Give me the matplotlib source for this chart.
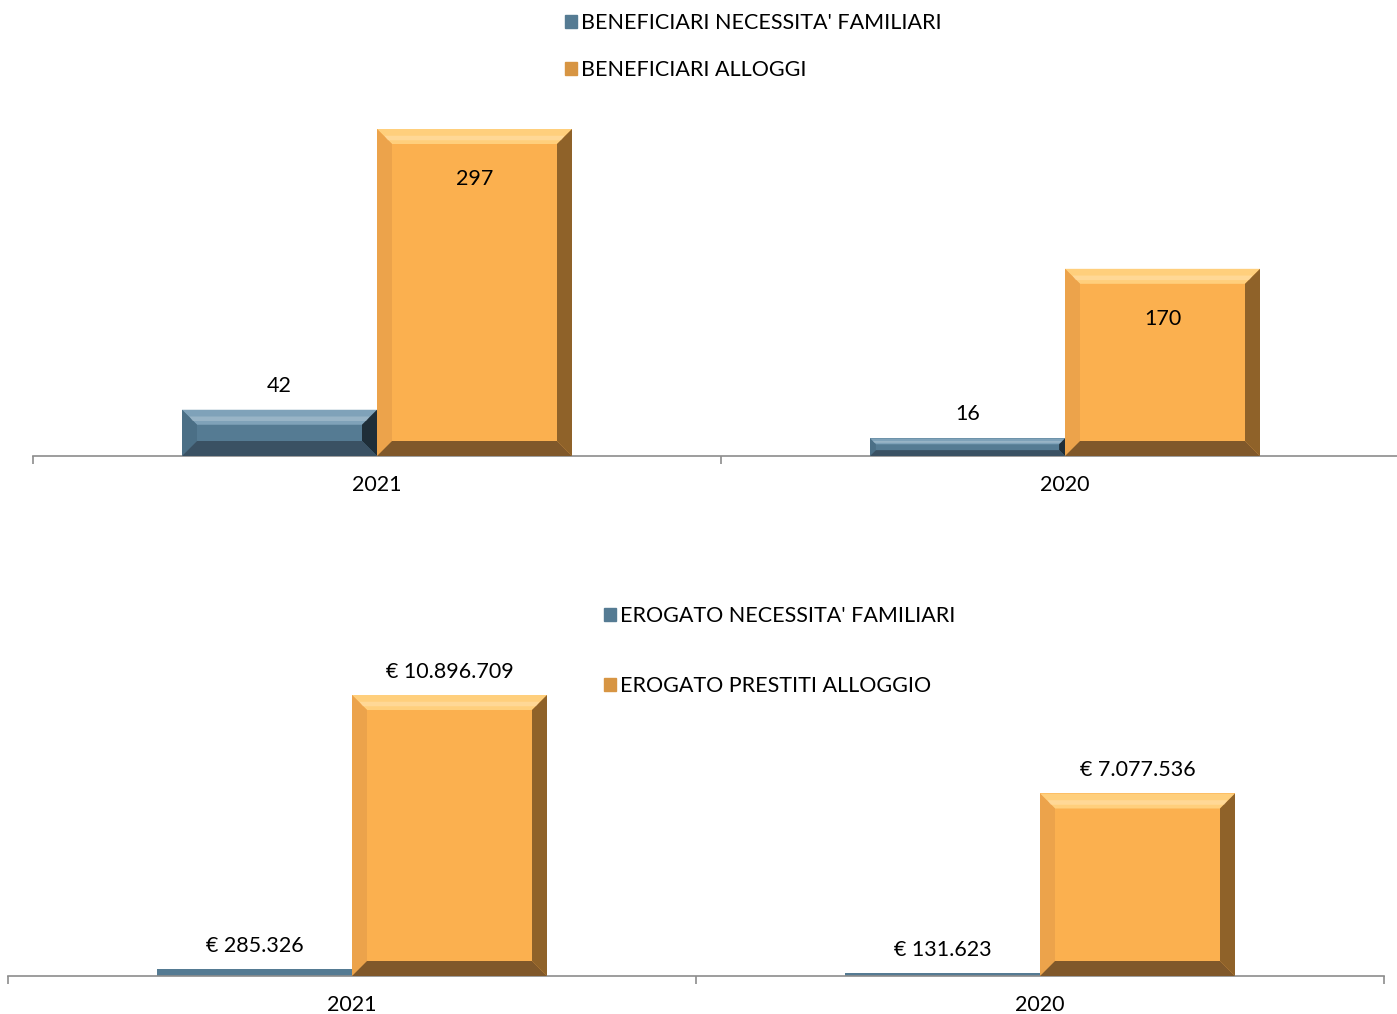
import matplotlib.pyplot as plt
from matplotlib.patches import Polygon, Patch
from matplotlib.transforms import IdentityTransform

plt.rcParams['font.family'] = ['Lato', 'DejaVu Sans']

W, H = 1397, 1014

years = ['2021', '2020']
benef_fam = [42, 16]
benef_all = [297, 170]
erog_fam = [285326, 131623]
erog_all = [10896709, 7077536]

lab_benef = ["BENEFICIARI NECESSITA' FAMILIARI", "BENEFICIARI ALLOGGI"]
lab_erog = ["EROGATO NECESSITA' FAMILIARI", "EROGATO PRESTITI ALLOGGIO"]

FS = 15.5
BLUE = '#557b93'
ORANGE = '#fbb04f'
BLUE_BEV = ['#7fa2b9', '#4b6f86', '#1f2e38', '#3a5163']
ORANGE_BEV = ['#ffcf7c', '#eca34b', '#8f6229', '#80582a']


def euro(v):
    return '€ ' + '{:,}'.format(v).replace(',', '.')


def px_axes(fig, left, right, top, bottom):
    return fig.add_axes([left / W, 1 - bottom / H, (right - left) / W, (bottom - top) / H])


def bevel(fig, ax, bar, cols, size=15):
    (x0, y0), (x1, y1) = ax.transData.transform(
        [(bar.get_x(), bar.get_y()), (bar.get_x() + bar.get_width(), bar.get_y() + bar.get_height())])
    h = y1 - y0
    if h < 10:
        return
    b = min(size, h / 3)
    polys = [
        [(x0, y1), (x1, y1), (x1 - b, y1 - b), (x0 + b, y1 - b)],  # top
        [(x0, y0), (x0, y1), (x0 + b, y1 - b), (x0 + b, y0 + b)],  # left
        [(x1, y0), (x1, y1), (x1 - b, y1 - b), (x1 - b, y0 + b)],  # right
        [(x0, y0), (x1, y0), (x1 - b, y0 + b), (x0 + b, y0 + b)],  # bottom
    ]
    for p, c in zip(polys, cols):
        fig.patches.append(Polygon(p, closed=True, facecolor=c, edgecolor='none',
                                   transform=IdentityTransform(), zorder=3))
    # soft highlight line inside the top bevel
    hl = [(x0 + b * 0.5, y1 - b * 0.45), (x1 - b * 0.5, y1 - b * 0.45),
          (x1 - b * 0.7, y1 - b * 0.75), (x0 + b * 0.7, y1 - b * 0.75)]
    fig.patches.append(Polygon(hl, closed=True, facecolor='white', alpha=0.2, edgecolor='none',
                               transform=IdentityTransform(), zorder=3))


def style_axis(ax, ymax):
    ax.set_xlim(-0.5, 1.5)
    ax.set_ylim(0, ymax)
    for s in ['top', 'right', 'left']:
        ax.spines[s].set_visible(False)
    ax.spines['bottom'].set_color('#8c8c8c')
    ax.spines['bottom'].set_linewidth(1.2)
    ax.set_yticks([])
    ax.set_xticks([-0.5, 0.5, 1.5])
    ax.set_xticklabels([])
    ax.tick_params(axis='x', which='major', length=6, width=1.2, color='#8c8c8c', direction='out')
    ax.set_xticks([0, 1], minor=True)
    ax.set_xticklabels(years, minor=True, fontsize=FS)
    ax.tick_params(axis='x', which='minor', length=0, pad=14)
    ax.patch.set_visible(False)


fig = plt.figure(figsize=(W / 100, H / 100), dpi=100)
bw = 195 / 688
x = [0, 1]

# top chart
ax1 = px_axes(fig, 33, 1409, 95, 456)
b1 = ax1.bar([i - bw / 2 for i in x], benef_fam, bw, color=BLUE, zorder=2)
b2 = ax1.bar([i + bw / 2 for i in x], benef_all, bw, color=ORANGE, zorder=2)
style_axis(ax1, (456 - 95) / (327 / 297))
for r, v in zip(b1, benef_fam):
    ax1.annotate(str(v), (r.get_x() + r.get_width() / 2, v), xytext=(0, 24),
                 textcoords='offset pixels', ha='center', va='center', fontsize=FS)
for r, v in zip(b2, benef_all):
    ax1.annotate(str(v), (r.get_x() + r.get_width() / 2, v), xytext=(0, -50),
                 textcoords='offset pixels', ha='center', va='center', fontsize=FS, zorder=5)
fig.legend(handles=[Patch(color=BLUE), Patch(color='#d79543')], labels=lab_benef,
           loc='upper left', bbox_to_anchor=(565 / W, 1 - 13 / H), frameon=False,
           fontsize=FS, handlelength=0.55, handleheight=0.55, handletextpad=0.2,
           labelspacing=1.27, borderpad=0, borderaxespad=0)

# bottom chart
ax2 = px_axes(fig, 8, 1384, 600, 976)
b3 = ax2.bar([i - bw / 2 for i in x], erog_fam, bw, color=BLUE, zorder=2)
b4 = ax2.bar([i + bw / 2 for i in x], erog_all, bw, color=ORANGE, zorder=2)
style_axis(ax2, (976 - 600) / (281 / 10896709))
for r, v in zip(list(b3) + list(b4), erog_fam + erog_all):
    ax2.annotate(euro(v), (r.get_x() + r.get_width() / 2, v), xytext=(0, 23),
                 textcoords='offset pixels', ha='center', va='center', fontsize=FS)
fig.legend(handles=[Patch(color=BLUE), Patch(color='#d79543')], labels=lab_erog,
           loc='upper left', bbox_to_anchor=(604 / W, 1 - 606 / H), frameon=False,
           fontsize=FS, handlelength=0.55, handleheight=0.55, handletextpad=0.2,
           labelspacing=2.34, borderpad=0, borderaxespad=0)

for ax, bars in [(ax1, list(b1) + list(b2)), (ax2, list(b3) + list(b4))]:
    for r in bars:
        cols = BLUE_BEV if r.get_facecolor()[2] > 0.5 else ORANGE_BEV
        bevel(fig, ax, r, cols)

fig.savefig('out.png', dpi=100)
